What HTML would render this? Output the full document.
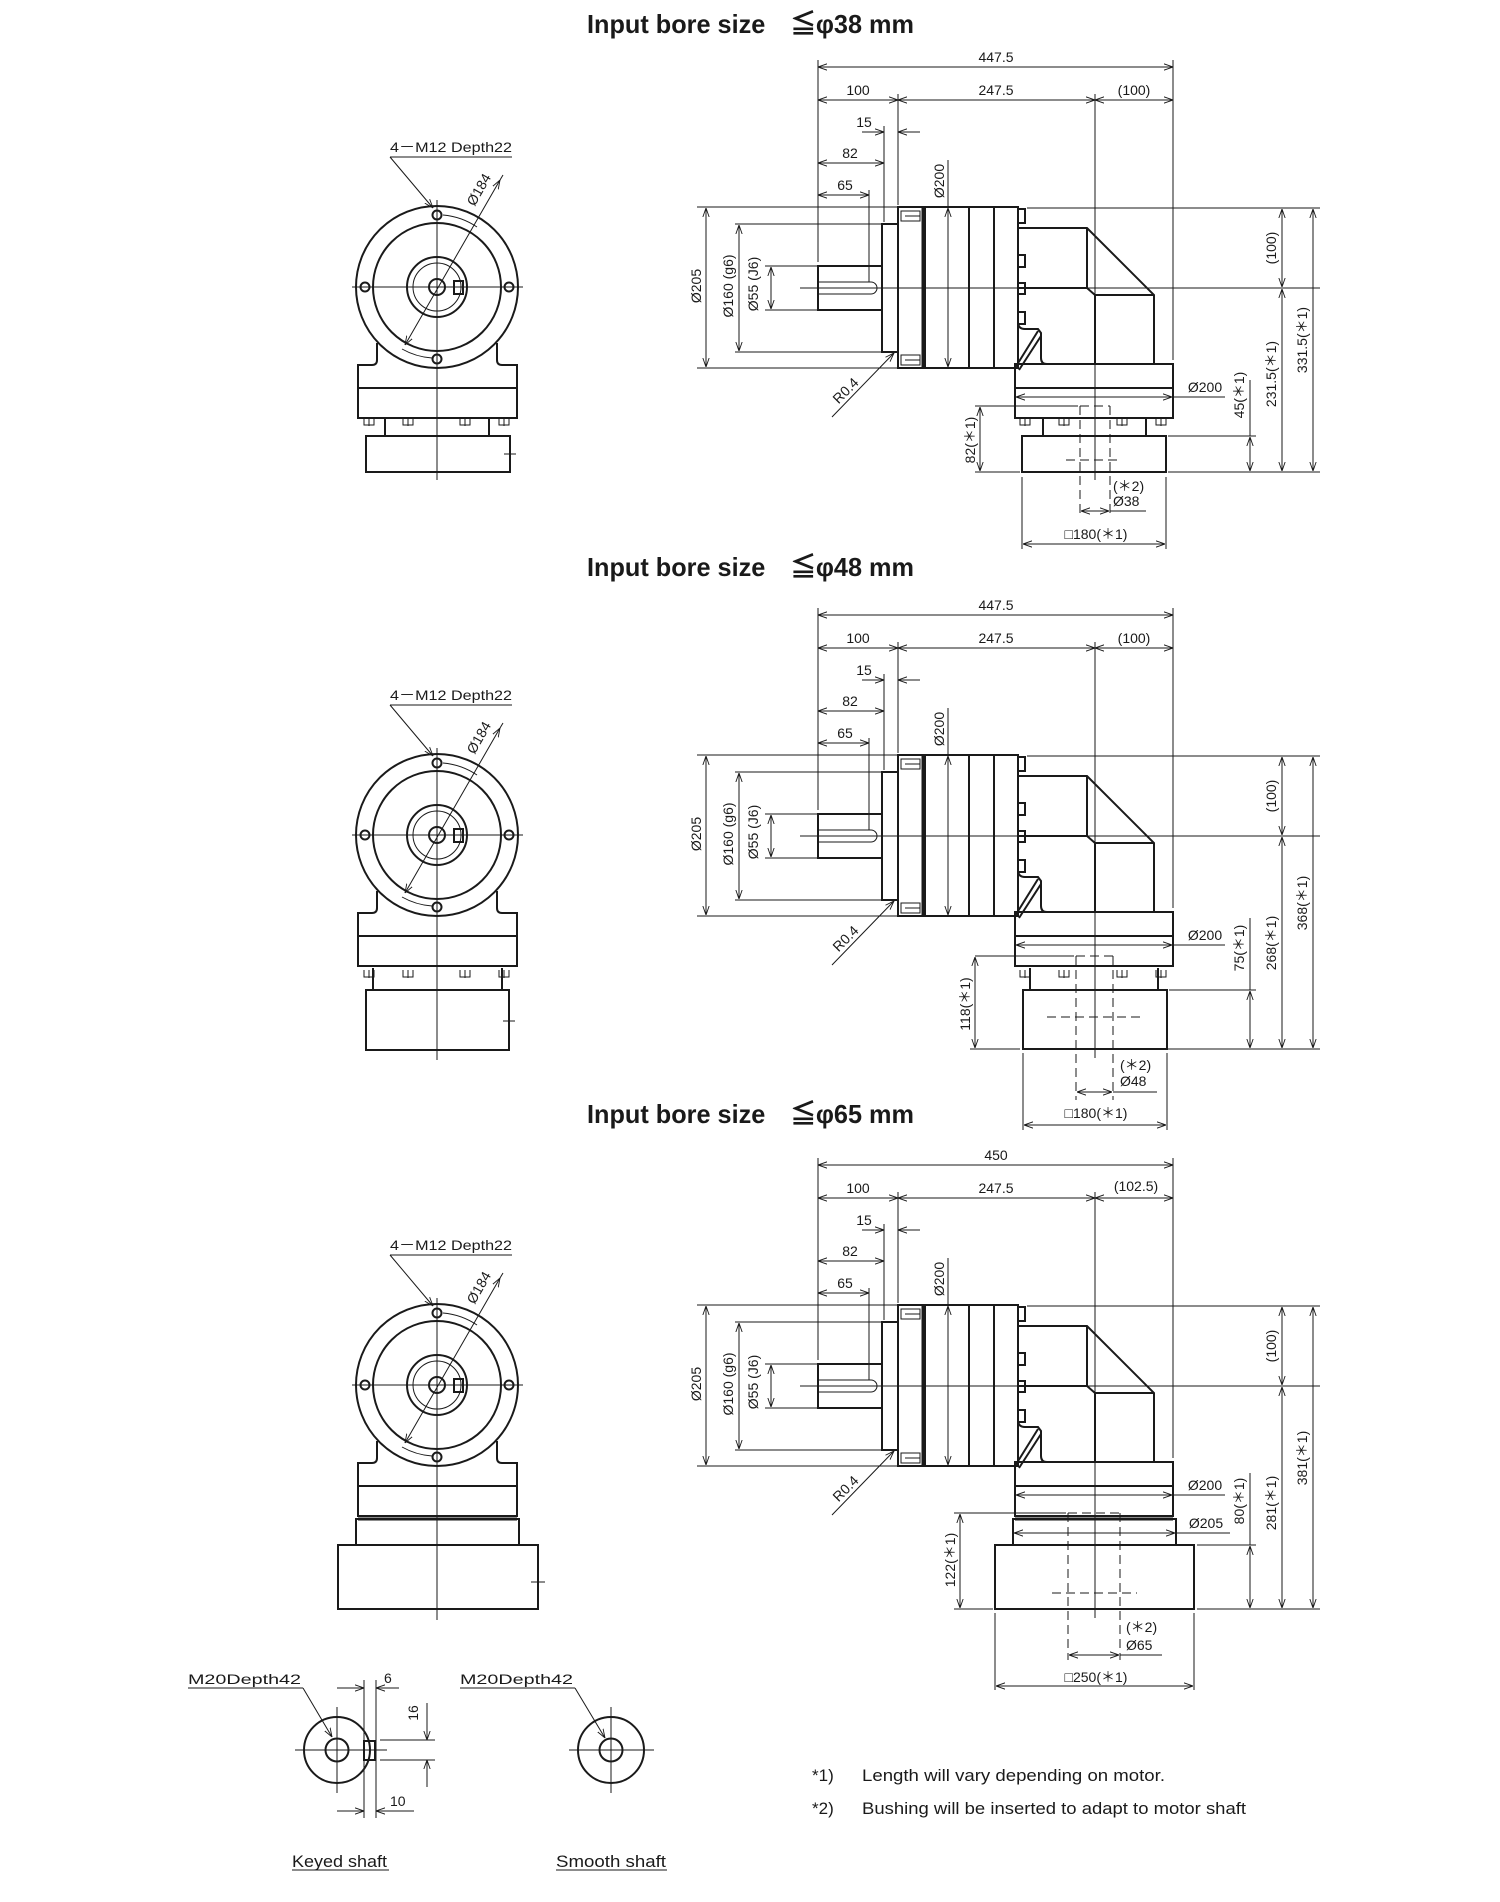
<!DOCTYPE html>
<html><head><meta charset="utf-8">
<style>
html,body{margin:0;padding:0;background:#fff;}
svg{display:block;}
.k{fill:none;stroke:#1a1a1a;stroke-width:2;}
.n{fill:none;stroke:#1a1a1a;stroke-width:1;}
.d{fill:none;stroke:#1a1a1a;stroke-width:1;marker-start:url(#a);marker-end:url(#a);}
.e{fill:none;stroke:#1a1a1a;stroke-width:1;marker-end:url(#a);}
.ds{fill:none;stroke:#1a1a1a;stroke-width:1;stroke-dasharray:9 5;}
text{font-family:"Liberation Sans",sans-serif;fill:#1a1a1a;}
.t{font-size:14px;}
.c{text-anchor:middle;}
.h{font-size:26px;font-weight:bold;}
.f{font-size:17px;}
</style></head><body>
<svg width="1500" height="1902" viewBox="0 0 1500 1902" xmlns="http://www.w3.org/2000/svg">
<defs>
<marker id="a" viewBox="0 0 10 10" refX="10" refY="5" markerWidth="9" markerHeight="9" orient="auto-start-reverse" markerUnits="userSpaceOnUse"><path d="M0,1.5 L10,5 L0,8.5" fill="none" stroke="#1a1a1a" stroke-width="1"/></marker>
<g id="top">
 <circle class="k" cx="437" cy="287" r="81"/>
 <circle class="k" cx="437" cy="287" r="64"/>
 <circle class="k" cx="437" cy="287" r="30"/>
 <circle class="n" cx="437" cy="287" r="24"/>
 <circle class="k" cx="437" cy="287" r="8"/>
 <circle class="k" cx="437" cy="215" r="4.5"/><circle class="k" cx="437" cy="359" r="4.5"/>
 <circle class="k" cx="365" cy="287" r="4.5"/><circle class="k" cx="509" cy="287" r="4.5"/>
 <rect class="k" x="454" y="281" width="9" height="13"/>
 <path class="n" d="M352,287 H523"/>
 <path class="n" d="M443,215 A72,72 0 0 1 477,227"/>
 <path class="n" d="M402,349 A71,71 0 0 0 432,358"/>
 <path class="d" d="M405,345 L500,180"/>
 <path class="n" d="M500,180 L503,175"/>
 <path class="n" d="M390,157 H512"/>
 <path class="e" d="M390,157 L433,208"/>
 <path class="k" d="M377,343 V360 Q377,365 372,365 H358 V418 H517 V365 H502 Q497,365 497,360 V343"/>
 <path class="k" d="M358,388 H517"/>
 <path class="n" d="M818,60 V262 M898,94 V205 M884,126 V222 M869,190 V282 M1173,60 V360"/>
 <path class="d" d="M818,67 H1173"/>
 <path class="d" d="M818,100 H898"/><path class="d" d="M898,100 H1095"/><path class="d" d="M1095,100 H1173"/>
 <path class="e" d="M862,132 H884"/><path class="e" d="M920,132 H898"/>
 <path class="d" d="M818,163 H884"/>
 <path class="d" d="M818,195 H869"/>
 <path class="n" d="M948,160 V207"/><path class="d" d="M948,208 V367"/>
 <path class="n" d="M697,207 H898 M697,368 H898 M735,224 H884 M735,352 H884 M765,266 H818 M765,310 H818"/>
 <path class="d" d="M706,208 V367"/><path class="d" d="M739,225 V351"/><path class="d" d="M771,267 V309"/>
 <path class="e" d="M832,417 L894,353"/>
 <rect class="k" x="818" y="266" width="64" height="44"/>
 <path class="n" d="M818,282 H871 A6,6 0 0 1 871,294 H818"/>
 <path class="n" d="M800,288 H1320"/>
 <rect class="k" x="882" y="224" width="16" height="128"/>
 <rect class="k" x="898" y="207" width="27" height="161"/>
 <path class="k" d="M923,207 V368" style="stroke-width:3"/>
 <rect class="n" x="901" y="211" width="19" height="10"/><path class="n" d="M905,216 H920"/>
 <rect class="n" x="901" y="355" width="19" height="10"/><path class="n" d="M905,360 H920"/>
 <rect class="k" x="925" y="207" width="93" height="161"/>
 <path class="k" d="M969,207 V368 M994,207 V368"/>
 <rect class="k" x="1018" y="209" width="7" height="14"/><rect class="k" x="1018" y="255" width="7" height="12"/>
 <rect class="k" x="1018" y="283" width="7" height="11"/><rect class="k" x="1018" y="312" width="7" height="12"/>
 <path class="k" d="M1018,228 H1087 L1154,295 V364"/>
 <path class="k" d="M1018,288 H1087 L1095,295 H1154 M1087,228 V288 M1095,295 V364"/>
 <path class="k" d="M1018,228 V322 Q1018,329 1025,329 H1038 L1041,333 V358 Q1041,364 1047,364"/>
 <path class="k" d="M1015,368 L1038,331 M1019,370 L1041,336"/>
 <rect class="k" x="1015" y="364" width="158" height="54"/>
 <path class="k" d="M1015,388 H1173"/>
 <path class="d" d="M1016,397 H1172"/><path class="n" d="M1173,397 H1225"/>
 <path class="n" d="M1027,208 H1320"/>
 <path class="d" d="M1282,209 V287"/>
</g>
<g id="bolts">
 <path class="n" d="M1020,418 v7 h10 v-7 M1025,418 v8 M1059,418 v7 h10 v-7 M1064,418 v8 M1117,418 v7 h10 v-7 M1122,418 v8 M1156,418 v7 h10 v-7 M1161,418 v8"/>
 <path class="n" d="M364,418 v7 h10 v-7 M369,418 v8 M403,418 v7 h10 v-7 M408,418 v8 M460,418 v7 h10 v-7 M465,418 v8 M499,418 v7 h10 v-7 M504,418 v8"/>
</g>
</defs>

<!-- SECTION 1 -->
<text class="h" x="587" y="33" textLength="327" lengthAdjust="spacingAndGlyphs">Input bore size　≦φ38 mm</text>
<use href="#top"/>
<use href="#bolts"/>
<path class="n" d="M437,200 V480 M1095,94 V480"/>
<path class="k" d="M385,418 V436 M489,418 V436"/>
<rect class="k" x="366" y="436" width="144" height="36"/>
<path class="n" d="M510,446 V462 M504,454 H516"/>
<path class="k" d="M1043,418 V436 M1146,418 V436"/>
<rect class="k" x="1022" y="436" width="144" height="36"/>
<path class="ds" d="M1080,406 V515 M1110,406 V515 M1080,406 H1110 M1066,460 H1122"/>
<path class="n" d="M975,406 H1078 M975,472 H1020 M1168,472 H1320 M1168,436 H1256 M1250,380 V436"/>
<path class="d" d="M980,407 V471"/>
<path class="d" d="M1250,437 V471"/>
<path class="d" d="M1282,289 V471"/>
<path class="d" d="M1313,209 V471"/>
<path class="n" d="M1022,477 V549 M1166,477 V549"/>
<path class="d" d="M1023,544 H1165"/>
<path class="d" d="M1081,511 H1109"/><path class="n" d="M1110,511 H1146"/>
<g class="t">
<text x="390" y="152" textLength="122" lengthAdjust="spacingAndGlyphs">4－M12 Depth22</text>
<text class="c" transform="translate(483,192) rotate(-60)">Ø184</text>
<text class="c" x="996" y="62">447.5</text>
<text class="c" x="858" y="95">100</text>
<text class="c" x="996" y="95">247.5</text>
<text class="c" x="1134" y="95">(100)</text>
<text class="c" x="864" y="127">15</text>
<text class="c" x="850" y="158">82</text>
<text class="c" x="845" y="190">65</text>
<text class="c" transform="translate(944,181) rotate(-90)">Ø200</text>
<text class="c" transform="translate(701,286) rotate(-90)">Ø205</text>
<text class="c" transform="translate(733,286) rotate(-90)">Ø160 (g6)</text>
<text class="c" transform="translate(758,284) rotate(-90)">Ø55 (J6)</text>
<text class="c" transform="translate(849,394) rotate(-45)">R0.4</text>
<text class="c" x="1205" y="392">Ø200</text>
<text class="c" transform="translate(975,440) rotate(-90)">82(＊1)</text>
<text class="c" transform="translate(1244,395) rotate(-90)">45(＊1)</text>
<text class="c" transform="translate(1276,374) rotate(-90)">231.5(＊1)</text>
<text class="c" transform="translate(1276,248) rotate(-90)">(100)</text>
<text class="c" transform="translate(1307,340) rotate(-90)">331.5(＊1)</text>
<text x="1113" y="491">(＊2)</text>
<text x="1113" y="506">Ø38</text>
<text class="c" x="1096" y="539">□180(＊1)</text>
</g>

<!-- SECTION 2 -->
<text class="h" x="587" y="576" textLength="327" lengthAdjust="spacingAndGlyphs">Input bore size　≦φ48 mm</text>
<g transform="translate(0,548)">
<use href="#top"/>
<use href="#bolts" transform="translate(0,4)"/>
<path class="n" d="M437,200 V512 M1095,94 V510"/>
<path class="k" d="M373,420 V442 M502,420 V442"/>
<rect class="k" x="366" y="442" width="143" height="60"/>
<path class="n" d="M509,464 V482 M503,473 H515"/>
<path class="k" d="M1030,420 V442 M1158,420 V442"/>
<rect class="k" x="1023" y="442" width="144" height="59"/>
<path class="ds" d="M1076,408 V552 M1113,408 V552 M1076,408 H1113 M1047,469 H1142"/>
<path class="n" d="M975,408 H1074 M970,501 H1020 M1168,501 H1320 M1169,442 H1256 M1250,370 V442"/>
<path class="d" d="M975,409 V500"/>
<path class="d" d="M1250,443 V500"/>
<path class="d" d="M1282,289 V500"/>
<path class="d" d="M1313,209 V500"/>
<path class="n" d="M1023,505 V582 M1167,505 V582"/>
<path class="d" d="M1024,577 H1166"/>
<path class="d" d="M1077,544 H1112"/><path class="n" d="M1113,544 H1157"/>
<g class="t">
<text x="390" y="152" textLength="122" lengthAdjust="spacingAndGlyphs">4－M12 Depth22</text>
<text class="c" transform="translate(483,192) rotate(-60)">Ø184</text>
<text class="c" x="996" y="62">447.5</text>
<text class="c" x="858" y="95">100</text>
<text class="c" x="996" y="95">247.5</text>
<text class="c" x="1134" y="95">(100)</text>
<text class="c" x="864" y="127">15</text>
<text class="c" x="850" y="158">82</text>
<text class="c" x="845" y="190">65</text>
<text class="c" transform="translate(944,181) rotate(-90)">Ø200</text>
<text class="c" transform="translate(701,286) rotate(-90)">Ø205</text>
<text class="c" transform="translate(733,286) rotate(-90)">Ø160 (g6)</text>
<text class="c" transform="translate(758,284) rotate(-90)">Ø55 (J6)</text>
<text class="c" transform="translate(849,394) rotate(-45)">R0.4</text>
<text class="c" x="1205" y="392">Ø200</text>
<text class="c" transform="translate(970,456) rotate(-90)">118(＊1)</text>
<text class="c" transform="translate(1244,400) rotate(-90)">75(＊1)</text>
<text class="c" transform="translate(1276,395) rotate(-90)">268(＊1)</text>
<text class="c" transform="translate(1276,248) rotate(-90)">(100)</text>
<text class="c" transform="translate(1307,355) rotate(-90)">368(＊1)</text>
<text x="1120" y="522">(＊2)</text>
<text x="1120" y="538">Ø48</text>
<text class="c" x="1096" y="570">□180(＊1)</text>
</g>
</g>

<!-- SECTION 3 -->
<text class="h" x="587" y="1123" textLength="327" lengthAdjust="spacingAndGlyphs">Input bore size　≦φ65 mm</text>
<g transform="translate(0,1098)">
<use href="#top"/>
<path class="n" d="M437,200 V522 M1095,94 V520"/>
<path class="k" d="M358,421 H517" style="stroke-width:3"/>
<rect class="k" x="356" y="421" width="163" height="26"/>
<rect class="k" x="338" y="447" width="200" height="64"/>
<path class="n" d="M538,474 V494 M531,484 H545"/>
<path class="k" d="M1015,421 H1173" style="stroke-width:3"/>
<rect class="k" x="1013" y="421" width="163" height="26"/>
<path class="d" d="M1014,435 H1175"/><path class="n" d="M1176,435 H1230"/>
<rect class="k" x="995" y="447" width="199" height="64"/>
<path class="ds" d="M1068,415 V562 M1120,415 V562 M1068,415 H1120 M1052,495 H1137"/>
<path class="n" d="M954,415 H1066 M954,511 H993 M1197,511 H1320 M1197,447 H1256 M1250,375 V447"/>
<path class="d" d="M960,416 V510"/>
<path class="d" d="M1250,448 V510"/>
<path class="d" d="M1282,289 V510"/>
<path class="d" d="M1313,209 V510"/>
<path class="n" d="M995,515 V592 M1194,515 V592"/>
<path class="d" d="M996,588 H1193"/>
<path class="d" d="M1069,557 H1119"/><path class="n" d="M1120,557 H1162"/>
<g class="t">
<text x="390" y="152" textLength="122" lengthAdjust="spacingAndGlyphs">4－M12 Depth22</text>
<text class="c" transform="translate(483,192) rotate(-60)">Ø184</text>
<text class="c" x="996" y="62">450</text>
<text class="c" x="858" y="95">100</text>
<text class="c" x="996" y="95">247.5</text>
<text class="c" x="1136" y="93">(102.5)</text>
<text class="c" x="864" y="127">15</text>
<text class="c" x="850" y="158">82</text>
<text class="c" x="845" y="190">65</text>
<text class="c" transform="translate(944,181) rotate(-90)">Ø200</text>
<text class="c" transform="translate(701,286) rotate(-90)">Ø205</text>
<text class="c" transform="translate(733,286) rotate(-90)">Ø160 (g6)</text>
<text class="c" transform="translate(758,284) rotate(-90)">Ø55 (J6)</text>
<text class="c" transform="translate(849,394) rotate(-45)">R0.4</text>
<text class="c" x="1205" y="392">Ø200</text>
<text class="c" x="1206" y="430">Ø205</text>
<text class="c" transform="translate(955,462) rotate(-90)">122(＊1)</text>
<text class="c" transform="translate(1244,403) rotate(-90)">80(＊1)</text>
<text class="c" transform="translate(1276,405) rotate(-90)">281(＊1)</text>
<text class="c" transform="translate(1276,248) rotate(-90)">(100)</text>
<text class="c" transform="translate(1307,360) rotate(-90)">381(＊1)</text>
<text x="1126" y="534">(＊2)</text>
<text x="1126" y="552">Ø65</text>
<text class="c" x="1096" y="584">□250(＊1)</text>
</g>
</g>

<!-- SHAFT DETAILS -->
<circle class="k" cx="337" cy="1750" r="33"/>
<circle class="k" cx="337" cy="1750" r="11.5"/>
<rect class="k" x="364" y="1741" width="11" height="19"/>
<path class="n" d="M295,1750 H387 M337,1707 V1793"/>
<path class="n" d="M188,1688 H303"/><path class="e" d="M303,1688 L332,1737"/>
<path class="n" d="M364,1680 V1818 M376,1680 V1818"/>
<path class="e" d="M337,1688 H364"/><path class="e" d="M399,1688 H376"/>
<path class="e" d="M337,1811 H364"/><path class="e" d="M414,1811 H376"/>
<path class="n" d="M380,1740 H435 M380,1760 H435"/>
<path class="e" d="M427,1703 V1740"/><path class="e" d="M427,1787 V1760"/>
<circle class="k" cx="611" cy="1750" r="33"/>
<circle class="k" cx="611" cy="1750" r="11.5"/>
<path class="n" d="M569,1750 H654 M611,1707 V1793"/>
<path class="n" d="M460,1688 H575"/><path class="e" d="M575,1688 L605,1738"/>
<g class="t">
<text x="188" y="1684" textLength="113" lengthAdjust="spacingAndGlyphs">M20Depth42</text>
<text x="460" y="1684" textLength="113" lengthAdjust="spacingAndGlyphs">M20Depth42</text>
<text x="384" y="1683">6</text>
<text class="c" transform="translate(418,1713) rotate(-90)">16</text>
<text x="390" y="1806">10</text>
</g>
<text class="f" x="292" y="1867" textLength="95" lengthAdjust="spacingAndGlyphs">Keyed shaft</text>
<path class="n" d="M292,1870 H389"/>
<text class="f" x="556" y="1867" textLength="110" lengthAdjust="spacingAndGlyphs">Smooth shaft</text>
<path class="n" d="M556,1870 H667"/>
<text class="f" x="812" y="1781">*1)</text>
<text class="f" x="862" y="1781" textLength="303" lengthAdjust="spacingAndGlyphs">Length will vary depending on motor.</text>
<text class="f" x="812" y="1814">*2)</text>
<text class="f" x="862" y="1814" textLength="384" lengthAdjust="spacingAndGlyphs">Bushing will be inserted to adapt to motor shaft</text>
</svg>
</body></html>
